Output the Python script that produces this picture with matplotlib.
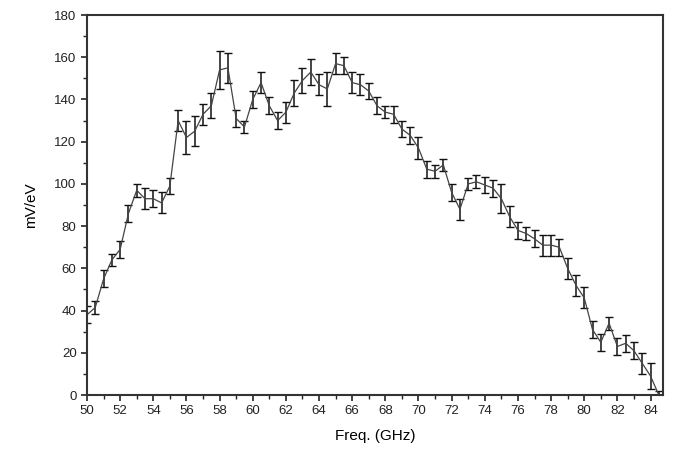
import numpy as np
import matplotlib
matplotlib.use("Agg")
import matplotlib.pyplot as plt
from matplotlib.ticker import MultipleLocator

# frequency points (GHz), measured response (mV/eV) and error bar half-heights
freq = np.arange(50.0, 84.51, 0.5)
signal = [38, 41.5, 55, 64, 69, 86, 97, 93, 93, 91,
          99, 130, 122, 125, 133, 137, 154, 155, 131, 127,
          140, 148, 137, 130, 134, 143, 149, 153, 147, 145,
          157, 156, 148, 147, 144, 137, 134, 133, 126, 123,
          117, 107, 106, 109, 96, 88, 100, 101, 99.5, 98,
          93, 84.5, 78, 76.5, 74, 71, 71, 70, 60, 52,
          46, 31, 25, 34, 23, 24.5, 21, 15, 9, 0]
err = [4, 3, 4, 3, 4, 4, 3, 5, 4, 5,
       4, 5, 8, 7, 5, 6, 9, 7, 4, 3,
       4, 5, 4, 4, 5, 6, 6, 6, 5, 8,
       5, 4, 5, 5, 4, 4, 3, 4, 4, 4,
       5, 4, 3, 3, 4, 5, 3, 3, 4, 4,
       7, 5, 4, 3, 4, 5, 5, 4, 5, 5,
       5, 4, 4, 3, 4, 4, 4, 5, 6, 2]

plt.rcParams["font.family"] = ["Liberation Sans", "DejaVu Sans"]

fig = plt.figure(figsize=(6.76, 4.59), dpi=100)
ax = fig.add_axes([0.1287, 0.1394, 0.852, 0.8278])

ax.errorbar(freq, signal, yerr=err, color="#444444", lw=0.9,
            ecolor="#111111", elinewidth=1.1, capsize=3, capthick=1.0)

ax.set_xlim(50, 84.75)
ax.set_ylim(0, 180)
ax.xaxis.set_major_locator(MultipleLocator(2))
ax.xaxis.set_minor_locator(MultipleLocator(1))
ax.yaxis.set_major_locator(MultipleLocator(20))
ax.yaxis.set_minor_locator(MultipleLocator(10))
ax.tick_params(which="both", direction="out", labelsize=9.5, colors="#222222",
               top=False, right=False)
ax.tick_params(which="major", length=4, width=1.2)
ax.tick_params(which="minor", length=3, width=1.0)
for s in ax.spines.values():
    s.set_linewidth(1.5)
    s.set_color("#333333")

ax.set_xlabel("Freq. (GHz)", fontsize=11, labelpad=8)
ax.set_ylabel("mV/eV", fontsize=11, labelpad=12)

fig.savefig("out.png", dpi=100)
